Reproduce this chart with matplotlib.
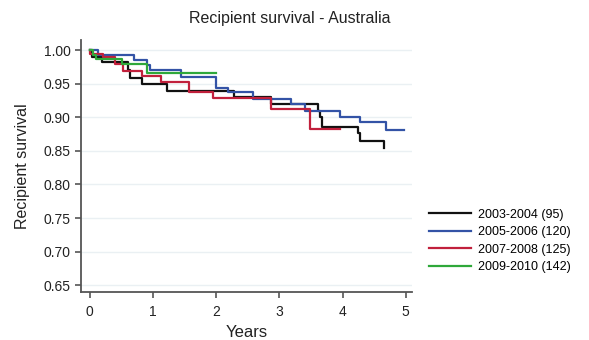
import matplotlib.pyplot as plt
import numpy as np

plt.rcParams['font.family'] = ['Liberation Sans', 'DejaVu Sans']

# Kaplan-Meier style step data (years, survival)
black_t = [0, 0.04, 0.2, 0.61, 0.64, 0.82, 1.22, 2.29, 2.87, 3.61, 3.64, 3.67, 4.25, 4.28, 4.65]
black_s = [1.0, 0.99, 0.982, 0.971, 0.959, 0.949, 0.939, 0.930, 0.920, 0.910, 0.900, 0.886, 0.876, 0.864, 0.855]

blue_t = [0, 0.13, 0.70, 0.91, 0.95, 1.45, 2.0, 2.19, 2.58, 3.19, 3.40, 3.96, 4.28, 4.69, 4.97]
blue_s = [1.0, 0.993, 0.985, 0.978, 0.970, 0.960, 0.943, 0.937, 0.927, 0.920, 0.910, 0.901, 0.893, 0.881, 0.881]

red_t = [0, 0.01, 0.21, 0.40, 0.53, 0.82, 1.13, 1.57, 1.95, 2.87, 3.48, 3.96]
red_s = [1.0, 0.994, 0.990, 0.980, 0.969, 0.961, 0.953, 0.938, 0.929, 0.913, 0.883, 0.883]

green_t = [0, 0.05, 0.1, 0.51, 0.9, 2.0]
green_s = [1.0, 0.993, 0.986, 0.979, 0.966, 0.966]

labels = ['2003-2004 (95)', '2005-2006 (120)', '2007-2008 (125)', '2009-2010 (142)']
colors = ['#111111', '#3353a6', '#c1203c', '#2fa83a']

yticks = [0.65, 0.70, 0.75, 0.80, 0.85, 0.90, 0.95, 1.00]
xticks = [0, 1, 2, 3, 4, 5]

fig = plt.figure(figsize=(5.89, 3.40), dpi=100)
ax = fig.add_axes([81 / 589, 1 - 292 / 340, 331 / 589, 252 / 340])

series = [(black_t, black_s), (blue_t, blue_s), (red_t, red_s), (green_t, green_s)]
for (t, s), lab, c in zip(series, labels, colors):
    ax.step(t, s, where='post', color=c, lw=1.6, label=lab)

ax.set_xlim(-0.14, 5.1)
ax.set_ylim(0.64, 1.015)
ax.set_xticks(xticks)
ax.set_yticks(yticks)
ax.set_yticklabels(['%.2f' % v for v in yticks])
ax.grid(axis='y', color='#eaf0f3', lw=1)
ax.set_axisbelow(True)

for side in ['top', 'right']:
    ax.spines[side].set_visible(False)
for side in ['left', 'bottom']:
    ax.spines[side].set_color('#555555')
    ax.spines[side].set_linewidth(1.3)
ax.tick_params(colors='#555555', labelcolor='#222222', labelsize=10, length=4, width=1.2)
ax.tick_params(axis='x', pad=5)

ax.set_xlabel('Years', fontsize=12, color='#222222', labelpad=5)
ax.set_ylabel('Recipient survival', fontsize=11.5, color='#222222', labelpad=10)
fig.text(0.492, 0.945, 'Recipient survival - Australia', ha='center', va='center',
         fontsize=11.5, color='#222222')

fig.legend(loc='center left', bbox_to_anchor=(418 / 589, 1 - 241 / 340), frameon=False,
           fontsize=9, handlelength=3.3, handletextpad=0.6, labelspacing=0.45)

fig.savefig('out.png', dpi=100)
